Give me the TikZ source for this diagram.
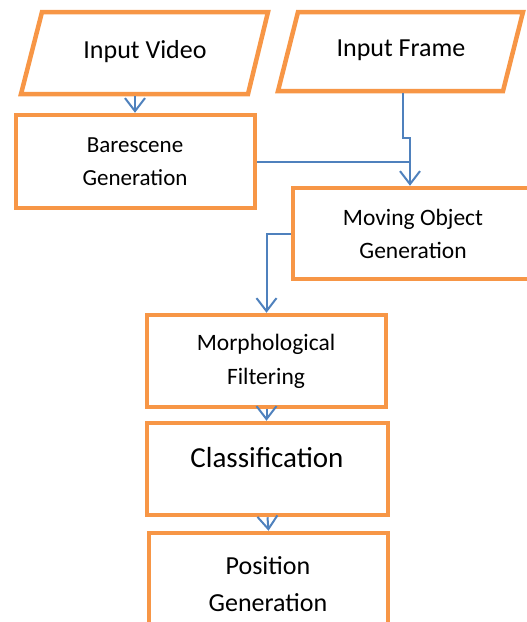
\documentclass[tikz,border=0pt]{standalone}
\usepackage{fontspec}
\setmainfont{Carlito}
\usetikzlibrary{arrows.meta}
\definecolor{boxorange}{HTML}{F79646}
\definecolor{linkblue}{HTML}{4F81BD}
\begin{document}
\begin{tikzpicture}[x=1pt,y=-1pt,
  box/.style={draw=boxorange, line width=4.5pt, fill=white, inner sep=0pt},
  para/.style={draw=boxorange, line width=4.5pt, fill=white, line join=miter},
  lbl/.style={align=center, inner sep=0pt},
  link/.style={draw=linkblue, line width=2pt},
  arr/.style={link, -{Straight Barb[length=13pt,width=20pt,line width=2pt]}}
]
\useasboundingbox (0,0) rectangle (527,622);
% input parallelograms
\draw[para] (42,12) -- (268,12) -- (248,94) -- (21,94) -- cycle;
\node[lbl, font={\fontsize{26}{37}\selectfont}] (tvid) at (145,52) {Input Video};
\coordinate (ivb) at (135,96);
\draw[para] (298,12) -- (523,12) -- (503,91) -- (278,91) -- cycle;
\node[lbl, font={\fontsize{26}{37}\selectfont}] (tfrm) at (401,50) {Input Frame};
\coordinate (ifb) at (403,93);
% boxes
\node[box, minimum width=239pt, minimum height=93pt] (bare) at (135.5,161.5) {};
\node[lbl, font={\fontsize{23}{33}\selectfont}] (tbare) at (135,162) {Barescene\\Generation};
\node[box, minimum width=240pt, minimum height=91pt] (mov) at (413,233.5) {};
\node[lbl, font={\fontsize{23.5}{33}\selectfont}] (tmov) at (413,234) {Moving Object\\Generation};
\node[box, minimum width=239pt, minimum height=92pt] (morph) at (266.5,361) {};
\node[lbl, font={\fontsize{23.5}{34}\selectfont}] (tmorph) at (266,361) {Morphological\\Filtering};
\node[box, minimum width=241pt, minimum height=92pt] (cls) at (267.5,469) {};
\node[lbl, font={\fontsize{29}{40}\selectfont}] (tcls) at (267,458) {Classification};
\node[box, minimum width=239pt, minimum height=100pt] (pos) at (268.5,583) {};
\node[lbl, font={\fontsize{26}{37}\selectfont}] (tpos) at (268,584) {Position\\Generation};
% connectors
\coordinate (jog) at (410,138);
\draw[arr] (ivb) -- (ivb |- bare.north);
\draw[link] (bare.east) -- (bare.east -| jog);
\draw[arr] (ifb) |- (jog) -- (jog |- mov.north);
\draw[arr] (mov.west) -| (morph.north);
\draw[arr] (morph.south) -- (morph.south |- cls.north);
\draw[arr] (cls.south) -- (pos.north);
\end{tikzpicture}
\end{document}
